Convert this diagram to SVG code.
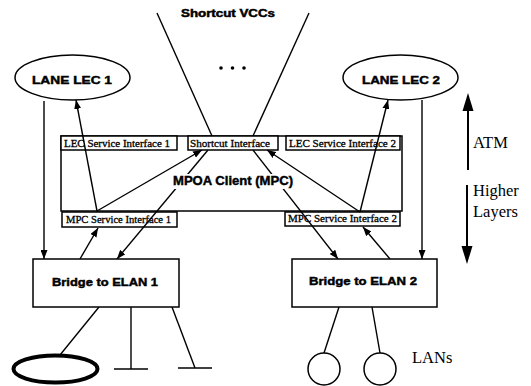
<svg xmlns="http://www.w3.org/2000/svg" width="531" height="386" viewBox="0 0 531 386">
<style>
.sb{font-family:"Liberation Sans",Arial,sans-serif;font-weight:bold;fill:#000;stroke:#000;stroke-width:0.45}
.sr{font-family:"Liberation Serif","Times New Roman",serif;fill:#000}
.si{stroke:#000;stroke-width:0.3}
.box{fill:#fff;stroke:#000;stroke-width:1.5}
.ln{stroke:#000;stroke-width:1.4;fill:none}
.arr{stroke:#000;stroke-width:1.4;fill:none;marker-end:url(#ah)}
</style>
<defs>
<marker id="ah" markerUnits="userSpaceOnUse" markerWidth="9" markerHeight="7" refX="9" refY="3.5" orient="auto">
<path d="M0,0 L9,3.5 L0,7 z" fill="#000"/>
</marker>
</defs>
<rect width="531" height="386" fill="#fff"/>

<g id="mpc">
<rect class="box" x="61" y="136" width="341" height="75"/>
</g>
<g id="lec-si-1">
<rect class="box" x="61" y="136" width="116" height="14"/>
<text class="sr si" x="64" y="147" font-size="10.5" textLength="106" lengthAdjust="spacingAndGlyphs">LEC Service Interface 1</text>
</g>
<g id="shortcut-if">
<rect class="box" x="188" y="136" width="90" height="14"/>
<text class="sr si" x="190" y="147" font-size="10.5" textLength="80" lengthAdjust="spacingAndGlyphs">Shortcut Interface</text>
</g>
<g id="lec-si-2">
<rect class="box" x="286" y="136" width="114" height="14"/>
<text class="sr si" x="289" y="147" font-size="10.5" textLength="107" lengthAdjust="spacingAndGlyphs">LEC Service Interface 2</text>
</g>
<g id="mpc-si-1">
<rect class="box" x="62" y="212" width="115" height="15"/>
<text class="sr si" x="66" y="223" font-size="10.5" textLength="105" lengthAdjust="spacingAndGlyphs">MPC Service Interface 1</text>
</g>
<g id="mpc-si-2">
<rect class="box" x="285" y="212" width="115" height="14"/>
<text class="sr si" x="288" y="222" font-size="10.5" textLength="109" lengthAdjust="spacingAndGlyphs">MPC Service Interface 2</text>
</g>

<g id="connectors">
<line class="ln" x1="157" y1="13" x2="212" y2="136"/>
<line class="ln" x1="309" y1="13" x2="253" y2="136"/>
<line class="arr" x1="44" y1="101" x2="44" y2="259"/>
<line class="arr" x1="97" y1="211" x2="76" y2="100"/>
<line class="arr" x1="97" y1="211" x2="202" y2="150"/>
<line class="arr" x1="208" y1="150" x2="117" y2="259"/>
<line class="arr" x1="80" y1="259" x2="98" y2="228"/>
<line class="arr" x1="422" y1="100" x2="422" y2="259"/>
<line class="arr" x1="360" y1="212" x2="388" y2="100"/>
<line class="arr" x1="360" y1="212" x2="267" y2="150"/>
<line class="arr" x1="253" y1="150" x2="338" y2="259"/>
<line class="arr" x1="390" y1="259" x2="363" y2="227"/>
<line class="ln" x1="99" y1="307" x2="60" y2="355"/>
<line class="ln" x1="131" y1="307" x2="131" y2="369"/>
<line class="ln" x1="114" y1="369" x2="148" y2="369"/>
<line class="ln" x1="172" y1="307" x2="195" y2="368"/>
<line class="ln" x1="178" y1="368" x2="212" y2="368"/>
<line class="ln" x1="339" y1="307" x2="324" y2="353"/>
<line class="ln" x1="372" y1="307" x2="380" y2="353"/>
</g>

<g id="mpoa-label">
<rect x="171" y="174" width="124" height="15" fill="#fff"/>
<text class="sb" x="233" y="185" font-size="13" text-anchor="middle" textLength="120" lengthAdjust="spacingAndGlyphs">MPOA Client (MPC)</text>
</g>

<g id="shortcut-vccs">
<text class="sb" x="228" y="17" font-size="10" text-anchor="middle" textLength="94" lengthAdjust="spacingAndGlyphs">Shortcut VCCs</text>
<circle cx="221" cy="68" r="1.8"/>
<circle cx="232.5" cy="68" r="1.8"/>
<circle cx="244" cy="68" r="1.8"/>
</g>

<g id="lec1">
<ellipse cx="72.5" cy="77.5" rx="57.5" ry="22.5" fill="#fff" stroke="#000" stroke-width="1.5"/>
<text class="sb" x="72" y="84" font-size="11" text-anchor="middle" textLength="80" lengthAdjust="spacingAndGlyphs">LANE LEC 1</text>
</g>
<g id="lec2">
<ellipse cx="400.5" cy="77.5" rx="57.5" ry="22.5" fill="#fff" stroke="#000" stroke-width="1.5"/>
<text class="sb" x="401" y="84" font-size="11" text-anchor="middle" textLength="78" lengthAdjust="spacingAndGlyphs">LANE LEC 2</text>
</g>

<g id="bridge1">
<rect class="box" x="33" y="259" width="146" height="48"/>
<text class="sb" x="105" y="286" font-size="11" text-anchor="middle" textLength="106" lengthAdjust="spacingAndGlyphs">Bridge to ELAN 1</text>
</g>
<g id="bridge2">
<rect class="box" x="292" y="259" width="145" height="48"/>
<text class="sb" x="363" y="285" font-size="11" text-anchor="middle" textLength="108" lengthAdjust="spacingAndGlyphs">Bridge to ELAN 2</text>
</g>

<g id="lan-ring">
<ellipse cx="55.5" cy="369" rx="42" ry="13.5" fill="none" stroke="#000" stroke-width="4"/>
</g>
<g id="lan-c1"><circle cx="324" cy="369" r="16" fill="none" stroke="#000" stroke-width="1.5"/></g>
<g id="lan-c2"><circle cx="380" cy="369" r="16" fill="none" stroke="#000" stroke-width="1.5"/></g>
<g id="lans-label"><text class="sr" x="412" y="363" font-size="16.5">LANs</text></g>

<g id="layers">
<line x1="468" y1="170" x2="468" y2="108" stroke="#000" stroke-width="2"/>
<polygon points="468,93 462.5,111 473.5,111" fill="#000"/>
<line x1="467" y1="185" x2="467" y2="248" stroke="#000" stroke-width="2"/>
<polygon points="461.5,246 472.5,246 467,264" fill="#000"/>
<text class="sr" x="473" y="148" font-size="16.5">ATM</text>
<text class="sr" x="473" y="196" font-size="16.5">Higher</text>
<text class="sr" x="473" y="217" font-size="16.5">Layers</text>
</g>
</svg>
